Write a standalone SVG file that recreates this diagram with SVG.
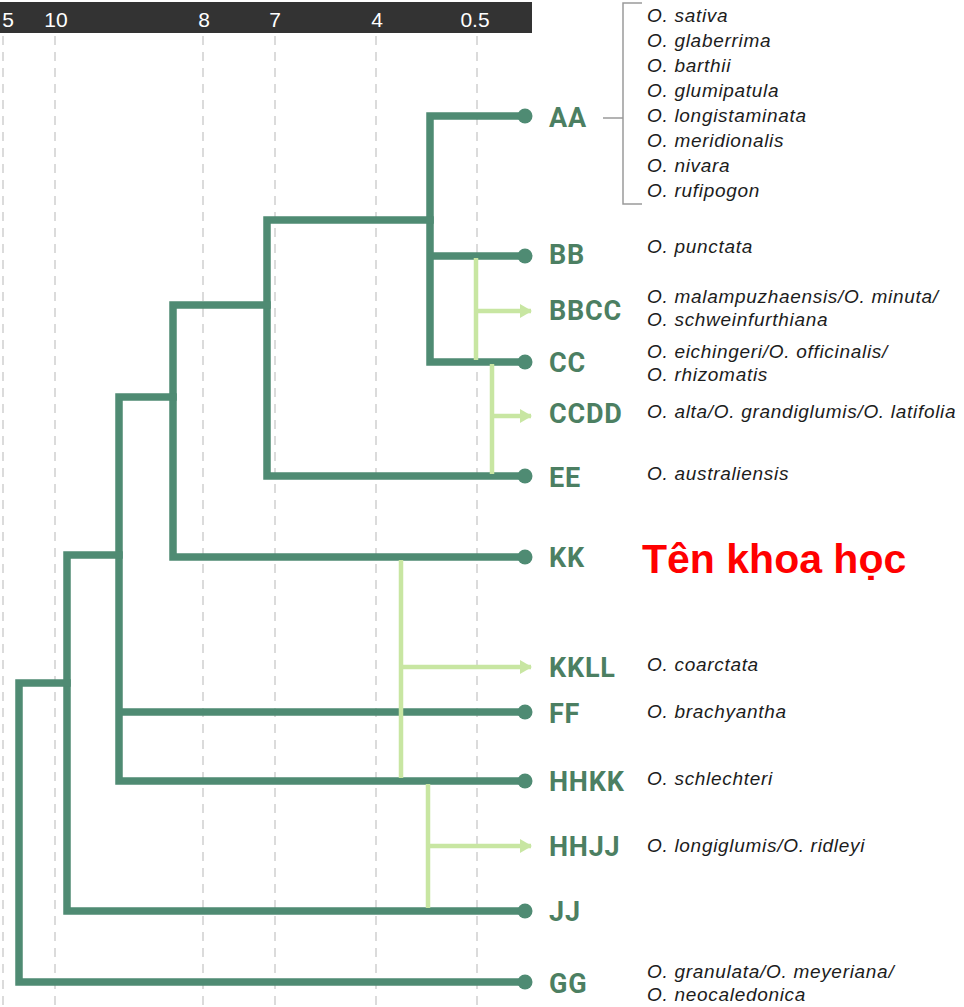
<svg xmlns="http://www.w3.org/2000/svg" width="964" height="1007" viewBox="0 0 964 1007">
<style>
.grid{stroke:#c4c4c4;stroke-width:1.2;stroke-dasharray:9 7;fill:none}
.tick{font-family:"Liberation Sans",Arial,sans-serif;font-size:21px;fill:#ffffff;text-anchor:middle}
.br{fill:none;stroke:#4f8b73;stroke-width:7.5;stroke-linejoin:miter;stroke-linecap:square}
.dot{fill:#4f8b73}
.hy{fill:none;stroke:#c8e6a2;stroke-width:4.5}
.lab{font-family:Roboto,"Liberation Sans",Arial,sans-serif;font-weight:bold;font-size:27px;fill:#4c7f62;letter-spacing:0.8px}
.sp{font-family:"Liberation Sans",Arial,sans-serif;font-style:italic;font-size:19px;fill:#1c1c1c;letter-spacing:0.7px}
.brk{fill:none;stroke:#9a9a9a;stroke-width:1.5}
.title{font-family:"Liberation Sans",Arial,sans-serif;font-weight:bold;font-size:41px;fill:#ff0000}
</style>
<defs>
<marker id="ah" viewBox="0 0 12 14" refX="11" refY="7" markerWidth="12" markerHeight="14" markerUnits="userSpaceOnUse" orient="auto">
<path d="M0,0 L12,7 L0,14 Z" fill="#c8e6a2"/>
</marker>
</defs>
<rect width="964" height="1007" fill="#ffffff"/>
<g id="axis">
<rect x="0" y="2" width="532" height="31" fill="#333333"/>
<text class="tick" x="8" y="27">5</text>
<text class="tick" x="56" y="27">10</text>
<text class="tick" x="204" y="27">8</text>
<text class="tick" x="275" y="27">7</text>
<text class="tick" x="377" y="27">4</text>
<text class="tick" x="475" y="27">0.5</text>
<path class="grid" d="M3,36V1007M55,36V1007M203,36V1007M275,36V1007M376,36V1007M477,36V1007"/>
</g>
<g id="connectors">
<path class="br" d="M525,116H430V362H525M430,256H525"/>
<path class="br" d="M430,220H267V476H525"/>
<path class="br" d="M267,305H173V557H525"/>
<path class="br" d="M173,397H119V781H525M119,712H525"/>
<path class="br" d="M119,555H67V911H525"/>
<path class="br" d="M67,683H19V982H525"/>
<path class="hy" d="M476,258V360M492,364V474M401,560V778M428,784V908"/>
<path class="hy" d="M476,311H531" marker-end="url(#ah)"/>
<path class="hy" d="M492,416H531" marker-end="url(#ah)"/>
<path class="hy" d="M401,667H531" marker-end="url(#ah)"/>
<path class="hy" d="M428,846H531" marker-end="url(#ah)"/>
</g>
<g id="dots">
<circle class="dot" cx="525" cy="116" r="7.5"/>
<circle class="dot" cx="525" cy="256" r="7.5"/>
<circle class="dot" cx="525" cy="362" r="7.5"/>
<circle class="dot" cx="525" cy="476" r="7.5"/>
<circle class="dot" cx="525" cy="557" r="7.5"/>
<circle class="dot" cx="525" cy="712" r="7.5"/>
<circle class="dot" cx="525" cy="781" r="7.5"/>
<circle class="dot" cx="525" cy="911" r="7.5"/>
<circle class="dot" cx="525" cy="982" r="7.5"/>
</g>
<g id="AA">
<text class="lab" x="549" y="127">AA</text>
<path class="brk" d="M642,3H623V204H642M603,118H623"/>
<text class="sp" x="647" y="22">O. sativa</text>
<text class="sp" x="647" y="47">O. glaberrima</text>
<text class="sp" x="647" y="72">O. barthii</text>
<text class="sp" x="647" y="97">O. glumipatula</text>
<text class="sp" x="647" y="122">O. longistaminata</text>
<text class="sp" x="647" y="147">O. meridionalis</text>
<text class="sp" x="647" y="172">O. nivara</text>
<text class="sp" x="647" y="197">O. rufipogon</text>
</g>
<g id="BB">
<text class="lab" x="549" y="264">BB</text>
<text class="sp" x="647" y="253">O. punctata</text>
</g>
<g id="BBCC">
<text class="lab" x="549" y="320">BBCC</text>
<text class="sp" x="647" y="303">O. malampuzhaensis/O. minuta/</text>
<text class="sp" x="647" y="326">O. schweinfurthiana</text>
</g>
<g id="CC">
<text class="lab" x="549" y="372">CC</text>
<text class="sp" x="647" y="358">O. eichingeri/O. officinalis/</text>
<text class="sp" x="647" y="381">O. rhizomatis</text>
</g>
<g id="CCDD">
<text class="lab" x="549" y="423">CCDD</text>
<text class="sp" x="647" y="418">O. alta/O. grandiglumis/O. latifolia</text>
</g>
<g id="EE">
<text class="lab" x="549" y="487">EE</text>
<text class="sp" x="647" y="480">O. australiensis</text>
</g>
<g id="KK">
<text class="lab" x="549" y="567">KK</text>
</g>
<g id="title">
<text class="title" x="642" y="573">Tên khoa học</text>
</g>
<g id="KKLL">
<text class="lab" x="549" y="677">KKLL</text>
<text class="sp" x="647" y="671">O. coarctata</text>
</g>
<g id="FF">
<text class="lab" x="549" y="723">FF</text>
<text class="sp" x="647" y="718">O. brachyantha</text>
</g>
<g id="HHKK">
<text class="lab" x="549" y="791">HHKK</text>
<text class="sp" x="647" y="785">O. schlechteri</text>
</g>
<g id="HHJJ">
<text class="lab" x="549" y="856">HHJJ</text>
<text class="sp" x="647" y="852">O. longiglumis/O. ridleyi</text>
</g>
<g id="JJ">
<text class="lab" x="549" y="921">JJ</text>
</g>
<g id="GG">
<text class="lab" x="549" y="993">GG</text>
<text class="sp" x="647" y="978">O. granulata/O. meyeriana/</text>
<text class="sp" x="647" y="1001">O. neocaledonica</text>
</g>
</svg>
